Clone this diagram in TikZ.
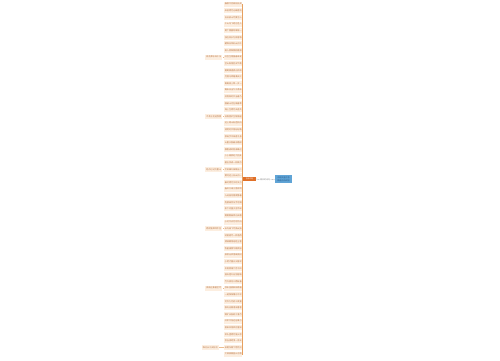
\documentclass[tikz,border=0pt]{standalone}
\usepackage{fontspec}
\newfontfamily\cjk{Noto Sans CJK SC}
\definecolor{leafbg}{RGB}{252,238,224}
\definecolor{leaftx}{RGB}{185,115,65}
\definecolor{trunk}{RGB}{230,160,95}
\definecolor{orangenode}{RGB}{224,112,40}
\definecolor{rootbg}{RGB}{96,164,214}
\definecolor{roottx}{RGB}{30,80,130}
\definecolor{midtx}{RGB}{130,130,130}
\tikzset{
  leafbox/.style={fill=leafbg, text=leaftx, font=\cjk\fontsize{2.1}{2.5}\selectfont, inner xsep=0.5pt, inner ysep=1.1pt, minimum width=17pt, minimum height=5pt, anchor=east},
  gcbox/.style={leafbox},
  trunkline/.style={draw=trunk, line width=1.2pt},
  twig/.style={draw=trunk!70, line width=0.3pt},
  midline/.style={draw=midtx!70, line width=0.3pt},
}
\begin{document}
\begin{tikzpicture}[x=1pt,y=-1pt]
\useasboundingbox (0,0) rectangle (500,360);
\node[fill=rootbg, text=roottx, font=\cjk\fontsize{2}{2.6}\selectfont, align=center, minimum width=17pt, minimum height=8.5pt, inner sep=0.5pt] (root) at (283.5,179.2) {诗句大全汇总\\精选古诗词句};
\node[text=midtx, font=\cjk\fontsize{2}{2.4}\selectfont, inner sep=0.3pt] (mid) at (265,179.5) {相关的诗句};
\node[fill=orangenode, text=white, font=\cjk\fontsize{1.8}{2}\selectfont, minimum width=13pt, minimum height=3.4pt, inner sep=0.2pt] (hub) at (249.5,179) {古诗词句};
\draw[midline] (root.west) -- (mid.east);
\draw[midline] (mid.west) -- (hub.east);
\foreach \t [count=\i from 0] in {
春眠不觉晓处处闻,床前明月光疑是地,白日依山尽黄河入,千山鸟飞绝万径人,两个黄鹂鸣翠柳一,独在异乡为异客每,朝辞白帝彩云间千,故人西辞黄鹤楼烟,红豆生南国春来发,空山新雨后天气晚,
葡萄美酒夜光杯欲,月落乌啼霜满天江,离离原上草一岁一,锄禾日当午汗滴禾,好雨知时节当春乃,国破山河在城春草,海上生明月天涯共,日照香炉生紫烟遥,远上寒山石径斜白,清明时节雨纷纷路,
慈母手中线游子身,山重水复疑无路柳,横看成岭侧成峰远,少小离家老大回乡,碧玉妆成一树高万,不知细叶谁裁出二,黄河远上白云间一,秦时明月汉时关万,春风又绿江南岸明,人闲桂花落夜静春,
危楼高百尺手可摘,松下问童子言师采,鹅鹅鹅曲项向天歌,小时不识月呼作白,众鸟高飞尽孤云独,劝君更尽一杯酒西,渭城朝雨浥轻尘客,牧童骑黄牛歌声振,泉眼无声惜细流树,小荷才露尖尖角早,
毕竟西湖六月中风,接天莲叶无穷碧映,竹外桃花三两枝春,停车坐爱枫林晚霜,一道残阳铺水中半,可怜九月初三夜露,移舟泊烟渚日暮客,野旷天低树江清月,红军不怕远征难万,夜来风雨声花落知,
举头望明月低头思,会当凌绝顶一览众,采菊东篱下悠然见,大漠孤烟直长河落} {
  \node[leafbox] (leaf\i) at (242.3,{4.2+6.6*\i}) {\t};
  \draw[trunkline] (hub.west) |- (leaf\i.east);
}
\foreach \r/\t/\x [count=\k] in {8/桃花潭水深千尺/222.5, 17/不及汪伦送我情/222.5, 25/轻舟已过万重山/222.5, 34/两岸猿声啼不住/222.5, 43/孤帆远影碧空尽/222.5, 52/唯见长江天际流/219} {
  \node[gcbox] (gc\k) at (\x,{4.2+6.6*\r}) {\t};
  \draw[twig] (leaf\r.west) -- (gc\k.east);
}
\end{tikzpicture}
\end{document}
